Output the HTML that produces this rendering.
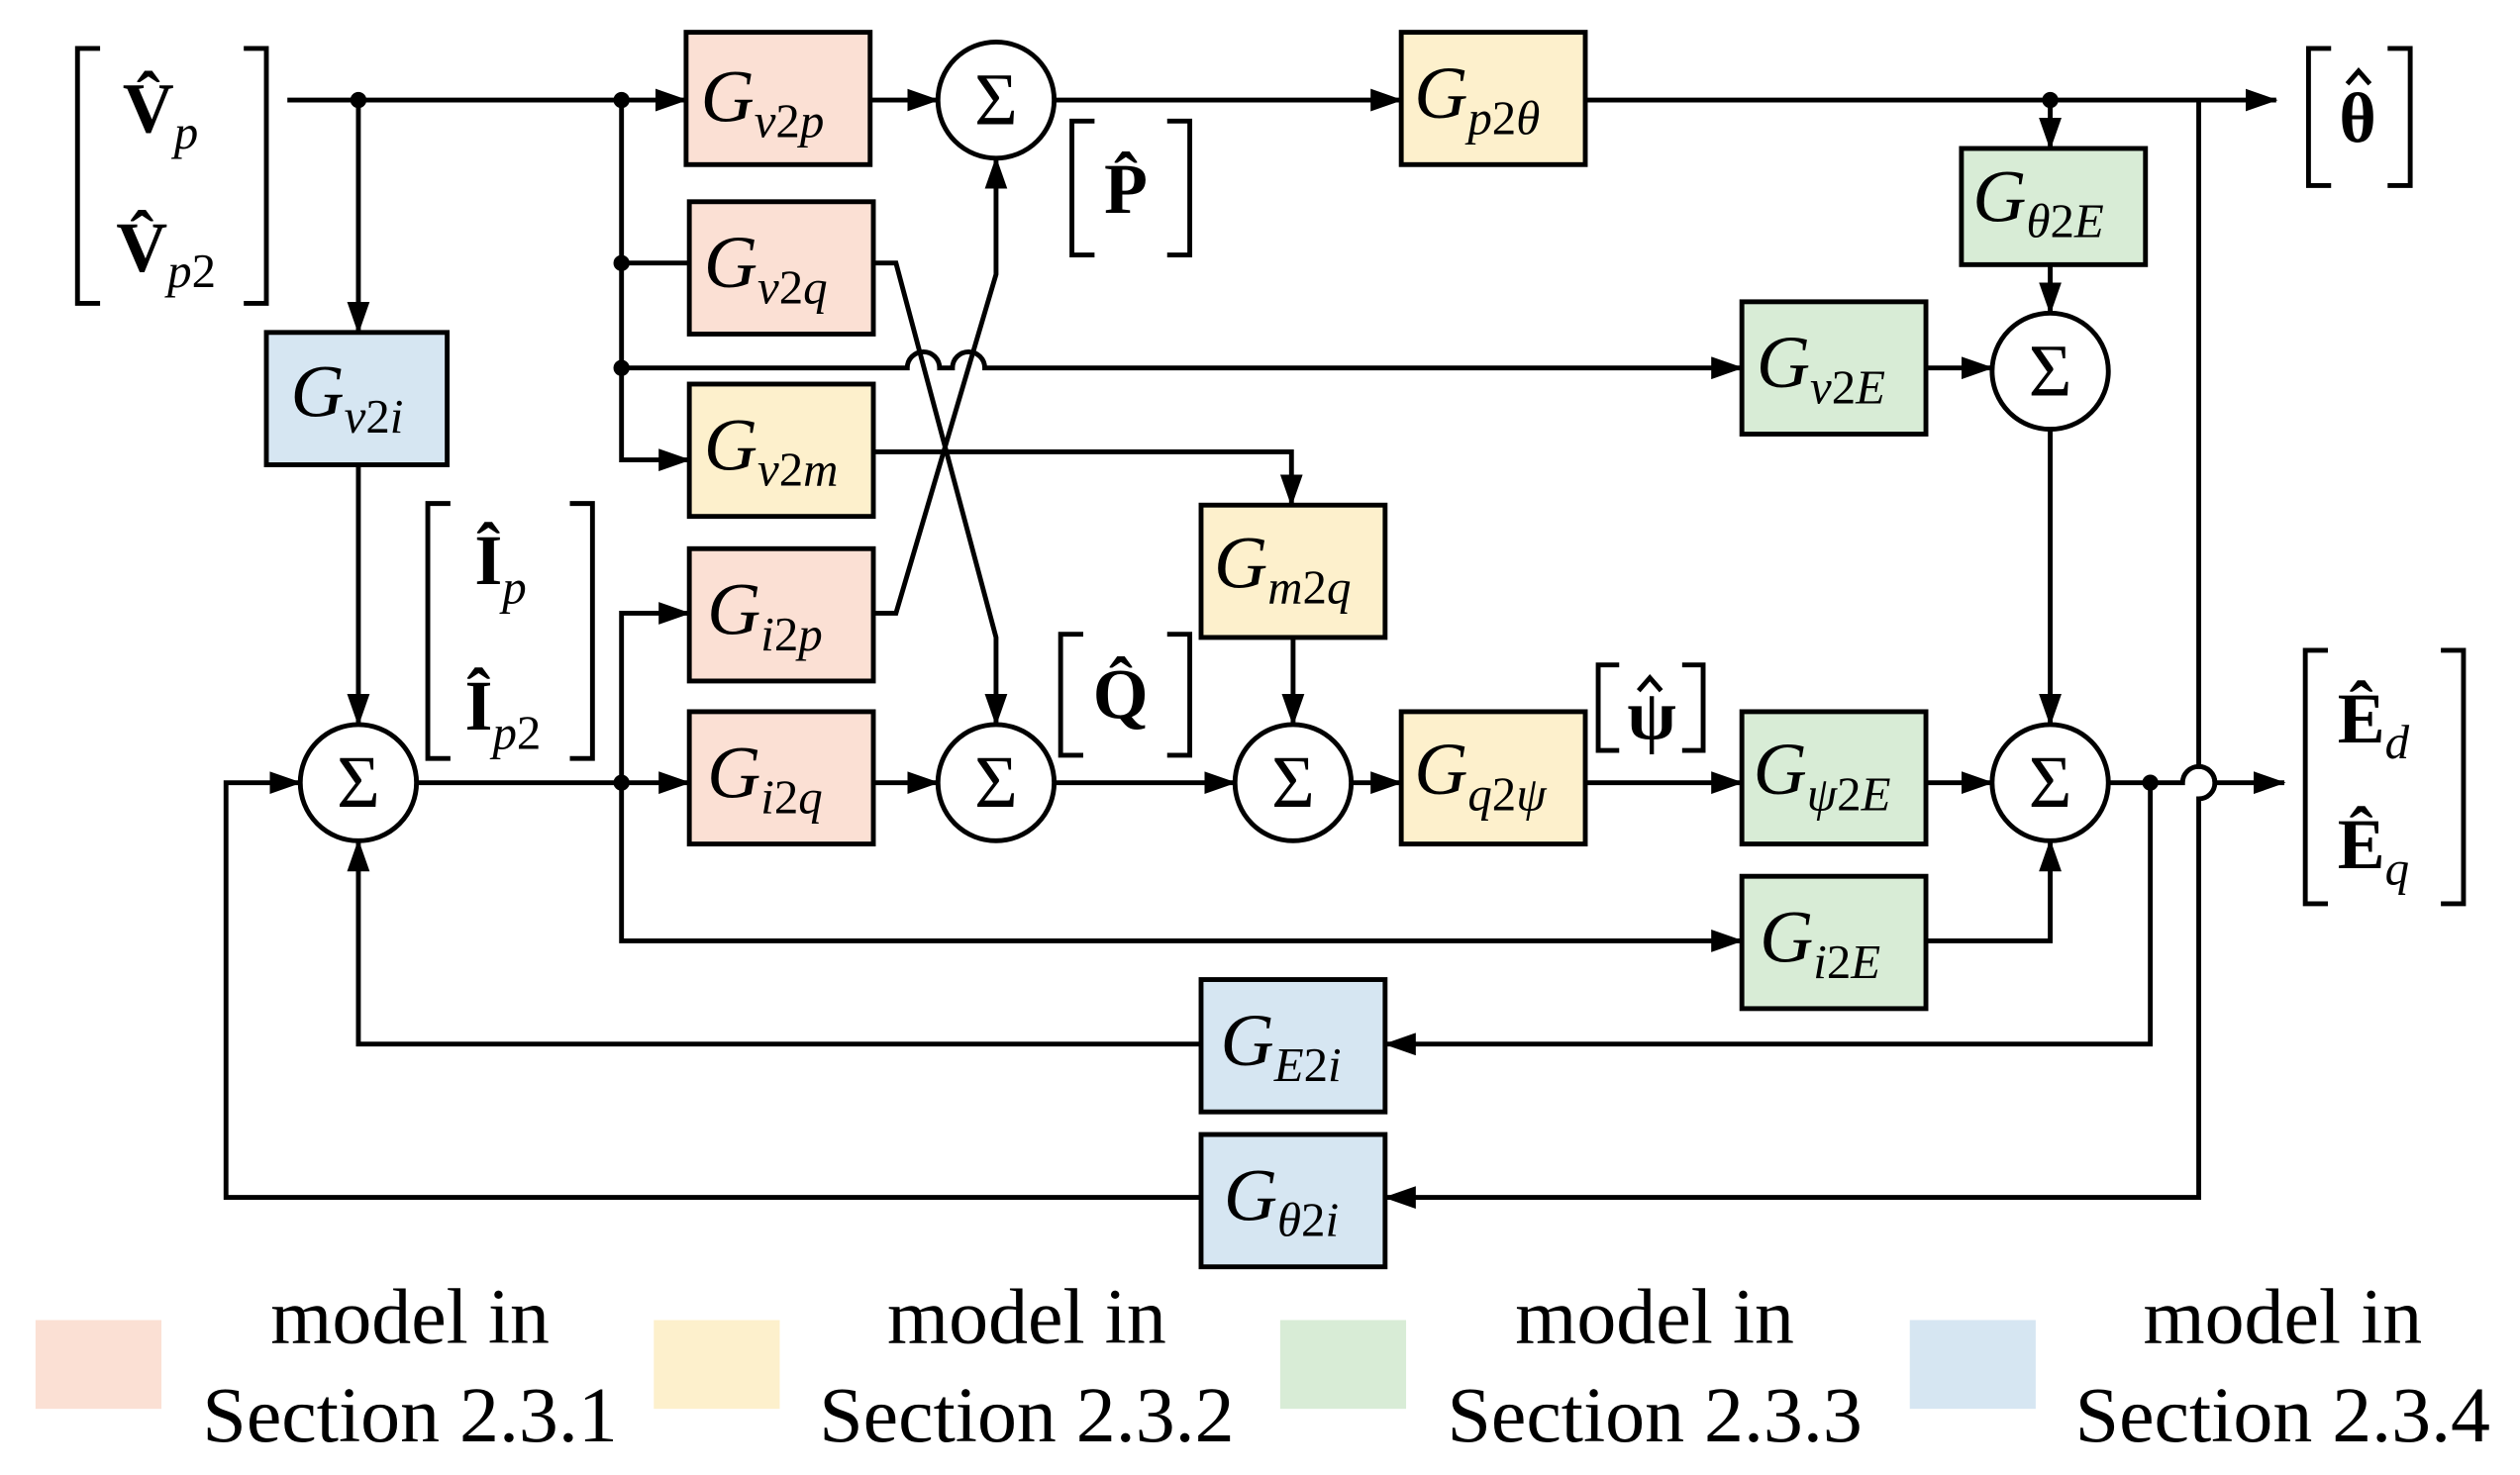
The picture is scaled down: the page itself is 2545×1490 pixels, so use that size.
<!DOCTYPE html>
<html><head><meta charset="utf-8"><style>
html,body{margin:0;padding:0;background:#fff;}
svg{display:block;}
text{font-family:"Liberation Serif",serif;fill:#000;}
</style></head><body>
<svg width="2545" height="1490" viewBox="0 0 1561 914" preserveAspectRatio="none" xmlns="http://www.w3.org/2000/svg">
<defs>
<marker id="a" viewBox="0 0 20 14" refX="19" refY="7" markerWidth="20" markerHeight="14" markerUnits="userSpaceOnUse" orient="auto">
<path d="M0,0 L20,7 L0,14 Z" fill="#000"/></marker>
</defs>
<g fill="none" stroke="#000" stroke-width="3">
<path d="M178,62 H425" marker-end="url(#a)"/>
<path d="M222,62 V206" marker-end="url(#a)"/>
<path d="M222,288 V449" marker-end="url(#a)"/>
<path d="M385,62 V285 H427" marker-end="url(#a)"/>
<path d="M385,163 H427"/>
<path d="M385,228 H562 a10,10 0 0 1 20,0 H590 a10,10 0 0 1 20,0 H1079" marker-end="url(#a)"/>
<path d="M539,62 H581" marker-end="url(#a)"/>
<path d="M653,62 H868" marker-end="url(#a)"/>
<path d="M982,62 H1410" marker-end="url(#a)"/>
<path d="M1270,62 V92" marker-end="url(#a)"/>
<path d="M1270,164 V194" marker-end="url(#a)"/>
<path d="M1193,228 H1234" marker-end="url(#a)"/>
<path d="M1270,266 V449" marker-end="url(#a)"/>
<path d="M1362,62 V475 a10,10 0 0 1 0,20 V742 H858" marker-end="url(#a)"/>
<path d="M744,742 H140 V485 H186" marker-end="url(#a)"/>
<path d="M541,163 H555 L617,395 V449" marker-end="url(#a)"/>
<path d="M541,280 H800 V313" marker-end="url(#a)"/>
<path d="M541,380 H555 L617,170 V98" marker-end="url(#a)"/>
<path d="M258,485 H427" marker-end="url(#a)"/>
<path d="M385,485 V583 H1079" marker-end="url(#a)"/>
<path d="M385,485 V380 H427" marker-end="url(#a)"/>
<path d="M541,485 H581" marker-end="url(#a)"/>
<path d="M653,485 H765" marker-end="url(#a)"/>
<path d="M801,395 V449" marker-end="url(#a)"/>
<path d="M837,485 H868" marker-end="url(#a)"/>
<path d="M982,485 H1079" marker-end="url(#a)"/>
<path d="M1193,485 H1234" marker-end="url(#a)"/>
<path d="M1193,583 H1270 V521" marker-end="url(#a)"/>
<path d="M1306,485 H1352 a10,10 0 0 1 20,0 H1415" marker-end="url(#a)"/>
<path d="M1332,485 V647 H858" marker-end="url(#a)"/>
<path d="M744,647 H222 V521" marker-end="url(#a)"/>
<path d="M62,30 H48 V188 H62 M151,30 H165 V188 H151"/>
<path d="M678,75 H664 V158 H678 M723,75 H737 V158 H723"/>
<path d="M279,312 H265 V470 H279 M353,312 H367 V470 H353"/>
<path d="M671,393 H657 V468 H671 M723,393 H737 V468 H723"/>
<path d="M1003,412 H990 V465 H1003 M1042,412 H1055 V465 H1042"/>
<path d="M1444,30 H1430 V115 H1444 M1479,30 H1493 V115 H1479"/>
<path d="M1442,403 H1428 V560 H1442 M1512,403 H1526 V560 H1512"/>
</g>
<g fill="#000">
<circle cx="222" cy="62" r="5"/><circle cx="385" cy="62" r="5"/><circle cx="385" cy="163" r="5"/>
<circle cx="385" cy="228" r="5"/><circle cx="385" cy="485" r="5"/><circle cx="1270" cy="62" r="5"/>
<circle cx="1332" cy="485" r="5"/>
</g>
<g stroke="#000" stroke-width="3">
<rect x="425" y="20" width="114" height="82" fill="#fbe0d4"/>
<rect x="427" y="125" width="114" height="82" fill="#fbe0d4"/>
<rect x="427" y="238" width="114" height="82" fill="#fdf0cc"/>
<rect x="427" y="340" width="114" height="82" fill="#fbe0d4"/>
<rect x="427" y="441" width="114" height="82" fill="#fbe0d4"/>
<rect x="165" y="206" width="112" height="82" fill="#d6e6f2"/>
<rect x="868" y="20" width="114" height="82" fill="#fdf0cc"/>
<rect x="1215" y="92" width="114" height="72" fill="#d8ecd6"/>
<rect x="1079" y="187" width="114" height="82" fill="#d8ecd6"/>
<rect x="744" y="313" width="114" height="82" fill="#fdf0cc"/>
<rect x="868" y="441" width="114" height="82" fill="#fdf0cc"/>
<rect x="1079" y="441" width="114" height="82" fill="#d8ecd6"/>
<rect x="1079" y="543" width="114" height="82" fill="#d8ecd6"/>
<rect x="744" y="607" width="114" height="82" fill="#d6e6f2"/>
<rect x="744" y="703" width="114" height="82" fill="#d6e6f2"/>
<circle cx="617" cy="62" r="36" fill="#fff"/><circle cx="222" cy="485" r="36" fill="#fff"/>
<circle cx="617" cy="485" r="36" fill="#fff"/><circle cx="801" cy="485" r="36" fill="#fff"/>
<circle cx="1270" cy="230" r="36" fill="#fff"/><circle cx="1270" cy="485" r="36" fill="#fff"/>
</g>
<g font-size="46" text-anchor="middle">
<text x="617" y="77">Σ</text><text x="222" y="500">Σ</text><text x="617" y="500">Σ</text>
<text x="801" y="500">Σ</text><text x="1270" y="245">Σ</text><text x="1270" y="500">Σ</text>
</g>
<g font-size="46" font-style="italic">
<text x="434" y="75">G<tspan font-size="30" dy="10">v</tspan><tspan font-size="30" font-style="normal">2</tspan><tspan font-size="30">p</tspan></text>
<text x="436" y="178">G<tspan font-size="30" dy="10">v</tspan><tspan font-size="30" font-style="normal">2</tspan><tspan font-size="30">q</tspan></text>
<text x="436" y="291">G<tspan font-size="30" dy="10">v</tspan><tspan font-size="30" font-style="normal">2</tspan><tspan font-size="30">m</tspan></text>
<text x="438" y="393">G<tspan font-size="30" dy="10">i</tspan><tspan font-size="30" font-style="normal">2</tspan><tspan font-size="30">p</tspan></text>
<text x="438" y="494">G<tspan font-size="30" dy="10">i</tspan><tspan font-size="30" font-style="normal">2</tspan><tspan font-size="30">q</tspan></text>
<text x="180" y="258">G<tspan font-size="30" dy="10">v</tspan><tspan font-size="30" font-style="normal">2</tspan><tspan font-size="30">i</tspan></text>
<text x="876" y="73">G<tspan font-size="30" dy="10">p</tspan><tspan font-size="30" font-style="normal">2</tspan><tspan font-size="30">θ</tspan></text>
<text x="1222" y="137">G<tspan font-size="30" dy="10">θ</tspan><tspan font-size="30" font-style="normal">2</tspan><tspan font-size="30">E</tspan></text>
<text x="1088" y="240">G<tspan font-size="30" dy="10">v</tspan><tspan font-size="30" font-style="normal">2</tspan><tspan font-size="30">E</tspan></text>
<text x="752" y="364">G<tspan font-size="30" dy="10">m</tspan><tspan font-size="30" font-style="normal">2</tspan><tspan font-size="30">q</tspan></text>
<text x="876" y="492">G<tspan font-size="30" dy="10">q</tspan><tspan font-size="30" font-style="normal">2</tspan><tspan font-size="30">ψ</tspan></text>
<text x="1086" y="492">G<tspan font-size="30" dy="10">ψ</tspan><tspan font-size="30" font-style="normal">2</tspan><tspan font-size="30">E</tspan></text>
<text x="1090" y="596">G<tspan font-size="30" dy="10">i</tspan><tspan font-size="30" font-style="normal">2</tspan><tspan font-size="30">E</tspan></text>
<text x="756" y="660">G<tspan font-size="30" dy="10">E</tspan><tspan font-size="30" font-style="normal">2</tspan><tspan font-size="30">i</tspan></text>
<text x="758" y="756">G<tspan font-size="30" dy="10">θ</tspan><tspan font-size="30" font-style="normal">2</tspan><tspan font-size="30">i</tspan></text>
</g>
<g font-size="44" font-weight="bold">
<text x="76" y="82">V̂<tspan font-size="30" font-weight="normal" font-style="italic" dy="10">p</tspan></text>
<text x="72" y="168">V̂<tspan font-size="30" font-weight="normal" font-style="italic" dy="10">p</tspan><tspan font-size="30" font-weight="normal" dy="0">2</tspan></text>
<text x="684" y="132">P̂</text>
<text x="294" y="362">Î<tspan font-size="30" font-weight="normal" font-style="italic" dy="12">p</tspan></text>
<text x="288" y="452">Î<tspan font-size="30" font-weight="normal" font-style="italic" dy="12">p</tspan><tspan font-size="30" font-weight="normal">2</tspan></text>
<text x="677" y="445">Q̂</text>
<text x="1008" y="458">ψ</text>
<text x="1449" y="88">θ</text>
<text x="1448" y="460">Ê<tspan font-size="30" font-weight="normal" font-style="italic" dy="10">d</tspan></text>
<text x="1448" y="538">Ê<tspan font-size="30" font-weight="normal" font-style="italic" dy="10">q</tspan></text>
</g>
<g fill="none" stroke="#000" stroke-width="3">
<path d="M1015,428 L1022,420 L1029,428"/>
<path d="M1454,52 L1461,44 L1468,52"/>
</g>
<rect x="22" y="818" width="78" height="55" fill="#fbe0d4"/>
<rect x="405" y="818" width="78" height="55" fill="#fdf0cc"/>
<rect x="793" y="818" width="78" height="55" fill="#d8ecd6"/>
<rect x="1183" y="818" width="78" height="55" fill="#d6e6f2"/>
<g font-size="49" text-anchor="middle">
<text x="254" y="832">model in</text><text x="254" y="893">Section 2.3.1</text>
<text x="636" y="832">model in</text><text x="636" y="893">Section 2.3.2</text>
<text x="1025" y="832">model in</text><text x="1025" y="893">Section 2.3.3</text>
<text x="1414" y="832">model in</text><text x="1414" y="893">Section 2.3.4</text>
</g>
</svg>
</body></html>
